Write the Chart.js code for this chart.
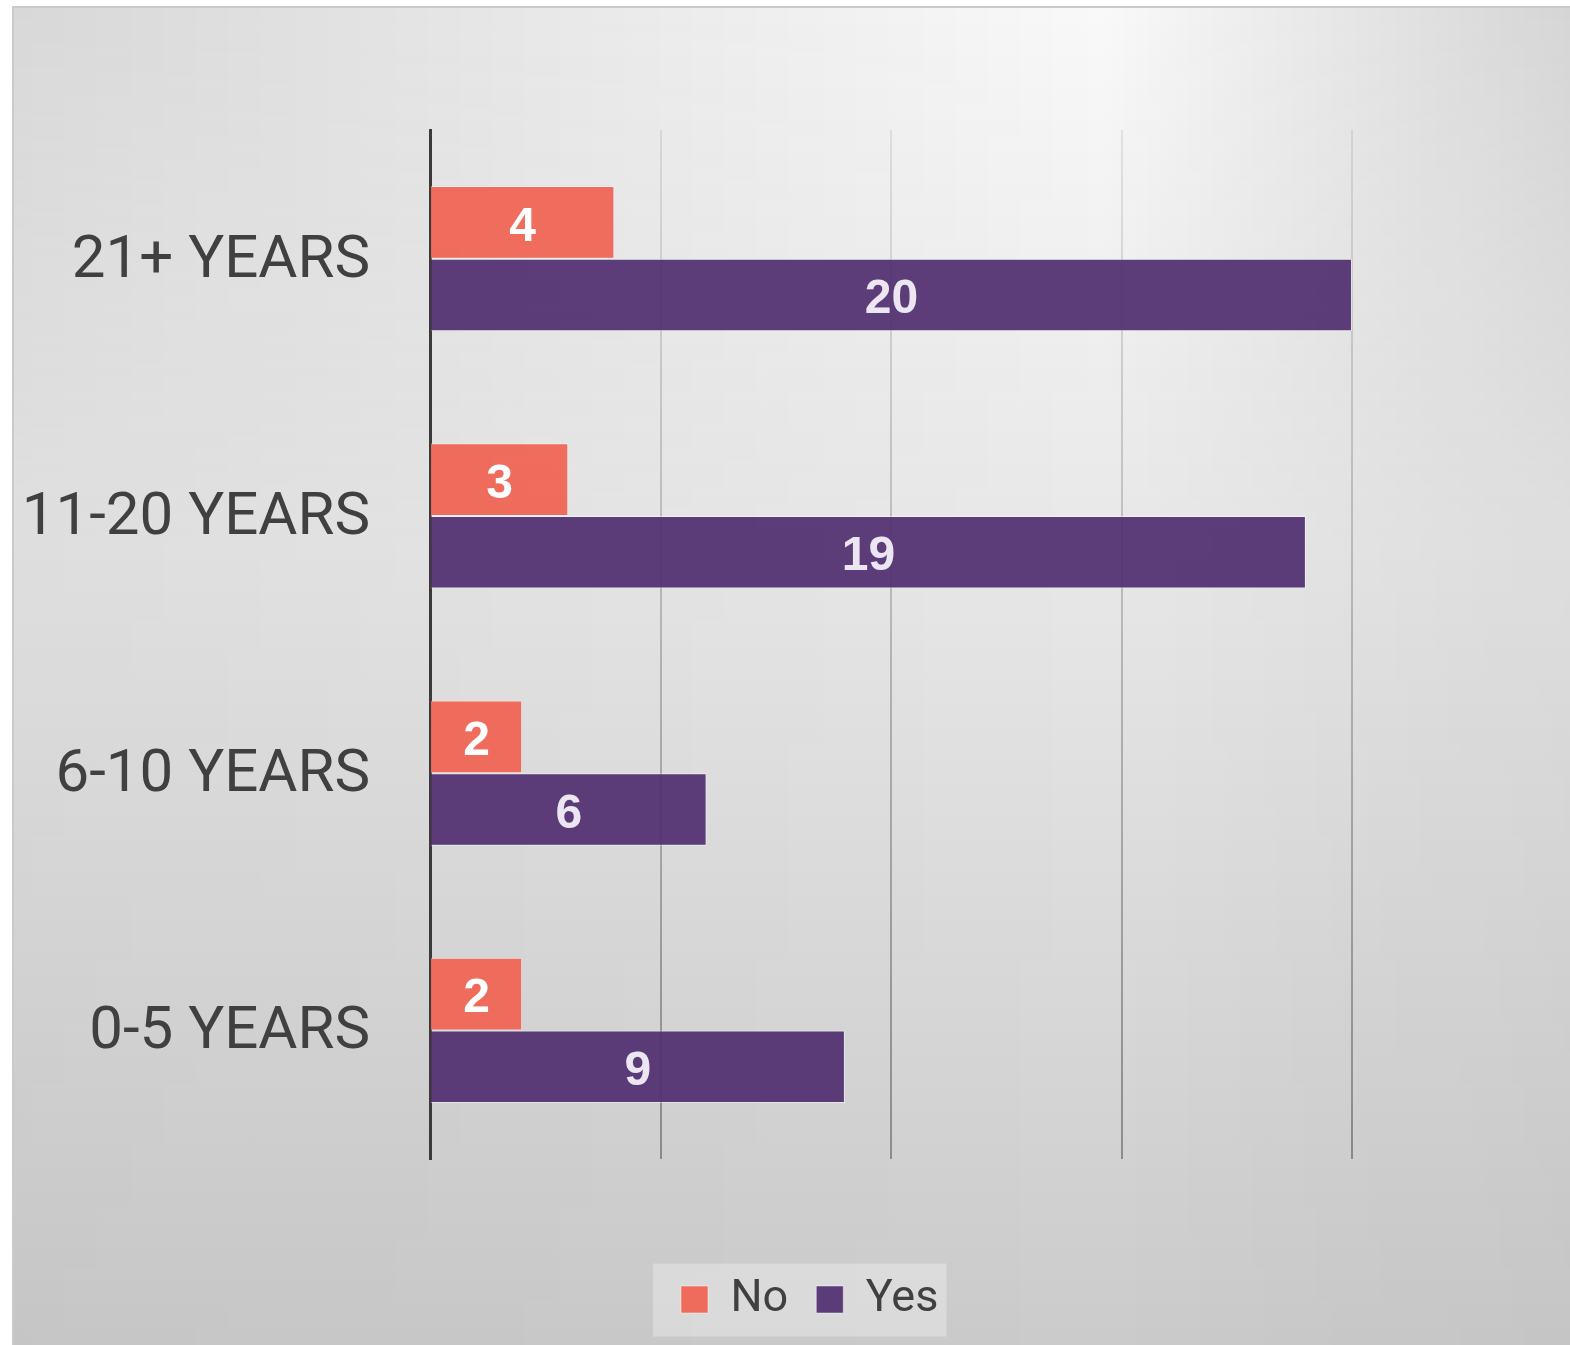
<!DOCTYPE html>
<html>
<head>
<meta charset="utf-8">
<title>Years of experience</title>
<script src="https://cdn.jsdelivr.net/npm/chart.js@4.4.1/dist/chart.umd.min.js"></script>
<style>
  html, body { margin: 0; padding: 0; background: #fff; overflow: hidden; }
  #panel {
    position: absolute; left: 12px; top: 6px; width: 1556px; height: 1337px;
    border-top: 2px solid #cacaca; border-left: 2px solid #cacaca;
    background: linear-gradient(to bottom, #f9f9f9 0%, #e6e6e6 45%, #cbcbcb 100%);
  }
  /* sides get darker near the top, fades out lower down */
  #panel::before {
    content: ''; position: absolute; left: 0; top: 0; right: 0; bottom: 0;
    background: linear-gradient(to right, rgba(0,0,0,0.13) 0%, rgba(0,0,0,0) 70%, rgba(0,0,0,0.14) 100%);
    -webkit-mask-image: linear-gradient(to bottom, #000 0%, rgba(0,0,0,0.3) 40%, rgba(0,0,0,0.2) 100%);
    mask-image: linear-gradient(to bottom, #000 0%, rgba(0,0,0,0.3) 40%, rgba(0,0,0,0.2) 100%);
  }
  #wrap { position: absolute; left: 0; top: 0; width: 1570px; height: 1345px; }
</style>
</head>
<body>
<div id="panel"></div>
<div id="wrap"><canvas id="chart" width="1570" height="1345"></canvas></div>
<script>
const categories = ['21+ YEARS', '11-20 YEARS', '6-10 YEARS', '0-5 YEARS'];
const seriesNames = ['No', 'Yes'];
const noValues = [4, 3, 2, 2];
const yesValues = [20, 19, 6, 9];
const axisMax = 20;
const axisStep = 5;

const LABEL_FONT = 'Roboto, "Liberation Sans", Arial, sans-serif';
const VALUE_FONT = '"Liberation Sans", Arial, Helvetica, sans-serif';
const textColour = '#404040';
const valueColours = ['#ffffff', '#ebe6f2'];

// white numbers in the middle of each bar
const barValues = {
  id: 'barValues',
  afterDatasetsDraw(chart) {
    const ctx = chart.ctx;
    ctx.save();
    ctx.font = 'bold 48px ' + VALUE_FONT;
    ctx.textAlign = 'center';
    ctx.textBaseline = 'middle';
    chart.data.datasets.forEach((ds, i) => {
      ctx.fillStyle = valueColours[i];
      chart.getDatasetMeta(i).data.forEach((bar, j) => {
        ctx.fillText(ds.data[j], (bar.x + bar.base) / 2, bar.y + 5);
      });
    });
    ctx.restore();
  }
};

// legend sits a bit left of centre, on a light box
const legendPanel = {
  id: 'legendPanel',
  afterLayout(chart) {
    const lg = chart.legend;
    lg.left = 653;
    lg.right = 1560;
    lg.width = lg.right - lg.left;
  },
  beforeDraw(chart) {
    const hb = chart.legend.legendHitBoxes;
    if (!hb || !hb.length) return;
    const first = hb[0];
    const last = hb[hb.length - 1];
    const ctx = chart.ctx;
    const midY = first.top + first.height / 2;
    const x0 = first.left - 28;
    ctx.save();
    ctx.fillStyle = 'rgba(255,255,255,0.3)';
    ctx.fillRect(x0, midY - 36, last.left + last.width + 8 - x0, 73);
    ctx.restore();
  }
};

// gridlines fade out towards the top like the original
function gridColour(context) {
  const chart = context.chart;
  const area = chart.chartArea;
  if (!area) return 'rgba(0,0,0,0.2)';
  const g = chart.ctx.createLinearGradient(0, area.top, 0, area.bottom);
  g.addColorStop(0, 'rgba(0,0,0,0.08)');
  g.addColorStop(1, 'rgba(0,0,0,0.33)');
  return g;
}

new Chart(document.getElementById('chart'), {
  type: 'bar',
  data: {
    labels: categories,
    datasets: [
      {
        label: seriesNames[0],
        data: noValues,
        backgroundColor: 'rgba(240,104,88,0.97)',
        borderColor: 'rgba(255,255,255,0.45)',
        borderWidth: 1
      },
      {
        label: seriesNames[1],
        data: yesValues,
        backgroundColor: 'rgba(81,47,112,0.93)',
        borderColor: 'rgba(255,255,255,0.45)',
        borderWidth: 1
      }
    ]
  },
  options: {
    indexAxis: 'y',
    responsive: false,
    animation: false,
    devicePixelRatio: 1,
    categoryPercentage: 0.565,
    barPercentage: 1,
    layout: { padding: { top: 130, right: 218, bottom: 13, left: 0 } },
    scales: {
      x: {
        min: 0,
        max: axisMax,
        ticks: { display: false, stepSize: axisStep },
        grid: { color: gridColour, lineWidth: 2, drawTicks: false },
        border: { display: false },
        afterFit(scale) { scale.height = 90; }
      },
      y: {
        grid: { display: false, drawTicks: false },
        border: { display: true, color: '#3a3a3a', width: 3 },
        ticks: { color: textColour, padding: 60, labelOffset: 3, font: { family: LABEL_FONT, size: 60 } },
        afterFit(scale) { scale.width = 430; }
      }
    },
    plugins: {
      legend: {
        position: 'bottom',
        align: 'start',
        labels: {
          color: textColour,
          boxWidth: 27,
          boxHeight: 27,
          padding: 28,
          font: { family: LABEL_FONT, size: 45 }
        }
      },
      tooltip: { enabled: false }
    }
  },
  plugins: [barValues, legendPanel]
});
</script>
</body>
</html>
